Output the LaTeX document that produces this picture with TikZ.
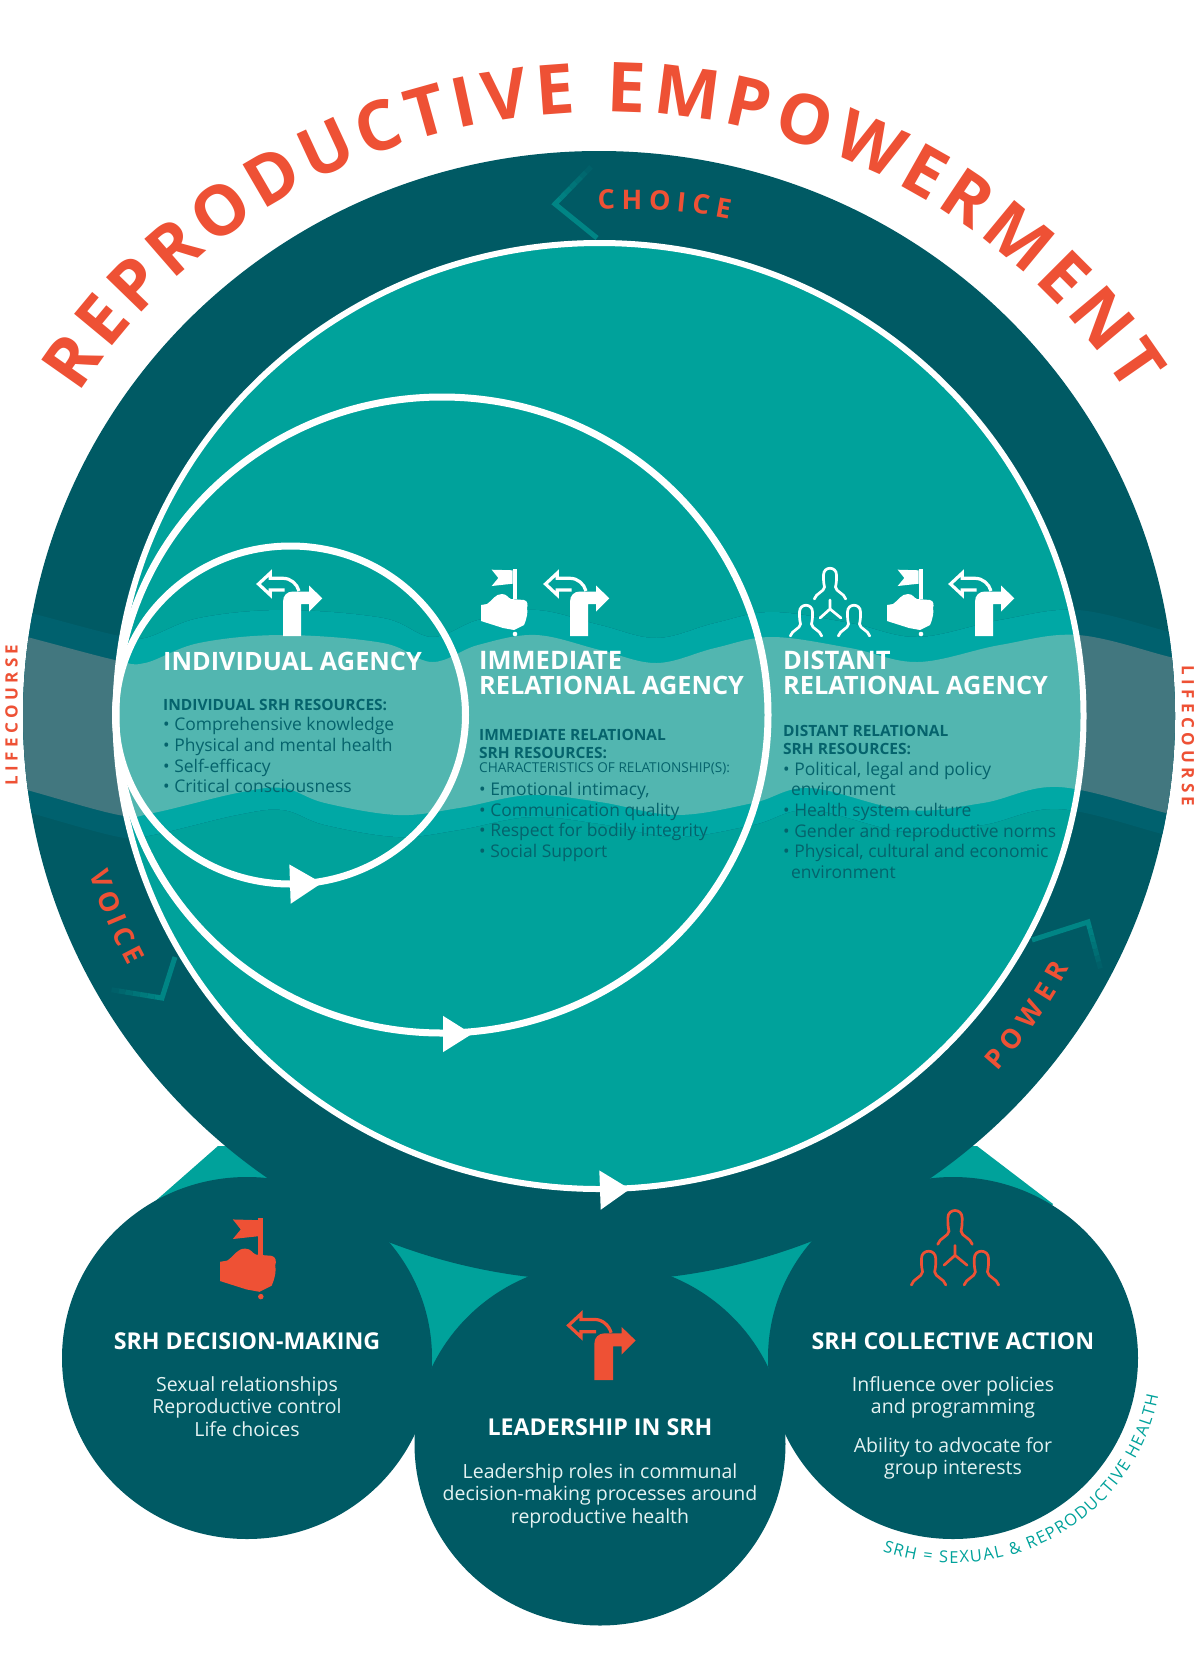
\documentclass[tikz,border=0pt]{standalone}
\usepackage{fontspec}
\setmainfont{Open Sans}
\newfontfamily\widefont{Open Sans}[LetterSpace=26]
\usepackage{xcolor}
\usepackage{tikz}
\usetikzlibrary{arrows.meta,positioning,calc,decorations.text}
\definecolor{cdark}{HTML}{005A64}
\definecolor{cteal}{HTML}{00A29B}
\definecolor{corange}{HTML}{EE5135}
\definecolor{ctext}{HTML}{05636C}
\definecolor{cpale}{HTML}{E4F2F2}
\definecolor{ringback}{HTML}{00616E}
\definecolor{ringband}{HTML}{42777F}
\definecolor{tealback}{HTML}{00A8A5}
\definecolor{tealband}{HTML}{52B6B0}
\newcommand{\sized}[1]{\fontsize{#1}{#1}\selectfont}
% curved text: centre x, centre y, x radius, y radius, from, to, format, text
\newcommand{\arctext}[8]{\path[decorate, decoration={text along path, text align=fit to path,
    text={|#7|#8}}] (#1,#2) ++(#5:#3 and #4) arc[start angle=#5, end angle=#6, x radius=#3, y radius=#4];}
\newcommand{\waveup}[1]{plot[smooth,tension=.6] coordinates {(-5,-630+#1) (27,-637+#1) (115,-660+#1) (145,-663+#1)
    (199,-643+#1) (283,-635+#1) (383,-643+#1) (432,-662+#1) (478,-645+#1) (536,-635+#1) (600,-650+#1)
    (657,-663+#1) (715,-648+#1) (772,-637+#1) (850,-648+#1) (918,-662+#1) (1000,-645+#1) (1078,-635+#1)
    (1170,-657+#1) (1205,-665+#1)}}
\newcommand{\wavelow}[1]{-- plot[smooth,tension=.6] coordinates {(1205,-822+#1) (1166,-813+#1) (1059,-787+#1) (983,-803+#1)
    (906,-810+#1) (810,-788+#1) (753,-803+#1) (676,-815+#1) (600,-802+#1) (530,-795+#1) (459,-808+#1)
    (398,-815+#1) (325,-803+#1) (283,-788+#1) (237,-793+#1) (153,-813+#1) (119,-815+#1) (27,-790+#1) (-5,-782+#1)}}
\tikzset{
  ringline/.style = {draw=white, line width=7pt},
  tipline/.style  = {draw=white, line width=5pt},
  title/.style    = {font=\bfseries\sized{25.3}, text=white, anchor=base west, inner sep=0pt, align=left},
  subhead/.style  = {font=\bfseries\fontsize{15.5}{18}\selectfont, text=ctext, inner sep=0pt, align=left},
  listtxt/.style  = {font=\fontsize{17.45}{20.6}\selectfont, text=ctext, inner sep=0pt, align=left},
  orbhead/.style  = {font=\bfseries\sized{23.2}, text=white, anchor=base, inner sep=0pt},
  orbtxt/.style   = {font=\fontsize{19.5}{22.6}\selectfont, text=cpale, anchor=north, inner sep=0pt, align=center},
  sidetxt/.style  = {font=\widefont\bfseries\sized{17}, text=corange, inner sep=0pt},
  chevron/.style  = {line width=5pt, draw=#1},
  turnsign/.pic = {
    \fill (26,0) -- (26,34.3) .. controls (26,40.5) and (30,44.5) .. (36,44.5) -- (52,44.5) -- (52,50.5)
       -- (65.3,37.7) -- (52,24.3) -- (52,32) -- (44,32) -- (44,0) -- cycle;
    \draw[line width=3.2pt, fill=none] (27.7,46) -- (13.3,46) -- (13.3,41) -- (1.5,52) -- (13.3,63) -- (13.3,57.7) -- (26,57.7)
       .. controls (34,57.7) and (40,52) .. (42,45);
  },
  flagfist/.pic = {
    \fill (0,31) -- (6,32) .. controls (12,36) and (14,42) .. (21,42) .. controls (26,42) and (27,38) .. (30,37) -- (43,36)
       .. controls (47,35) and (47,31) .. (46,28) .. controls (47,24) and (46,18) .. (43,11) -- (33,6) -- (22,8) -- (0,15) -- cycle;
    \fill (10.7,66.3) -- (31.7,65.7) -- (31.7,52.3) -- (10.7,50) -- (17.3,58) -- cycle;
    \fill (31.7,67.3) rectangle (35.7,37);
    \fill (34,2) circle[radius=2.3];
  },
  trio/.pic = {
    \foreach \px/\py in {40/37, 16/0, 64/0}
      \draw[line width=2.7pt, line cap=round, fill=none, shift={(\px,\py)}] (-15.7,0)
         .. controls (-14,6) and (-6,7) .. (-5.5,12) .. controls (-6.5,17) and (-6.5,18) .. (-6.5,24)
         .. controls (-6.5,33) and (6.5,33) .. (6.5,24) .. controls (6.5,18) and (6.5,17) .. (5.5,12)
         .. controls (6,7) and (14,6) .. (15.7,0);
    \draw[line width=2.7pt, line cap=round, fill=none] (40,36) -- (40,27) -- (30,18) (40,27) -- (51,18);
  },
}
\begin{document}
\begin{tikzpicture}[x=1pt,y=1pt]
  \useasboundingbox (0,0) rectangle (1200,-1668);
  \fill[white] (0,0) rectangle (1200,-1668);

  % teal wedges behind the discs
  \fill[cteal] (218,-1146) -- (152,-1204) -- (247,-1358) -- (600,-1444) -- (953,-1358) -- (1053,-1204) -- (977,-1146) -- cycle;
  \fill[cdark] (599,-716) ellipse[x radius=576, y radius=565];
  \fill[cdark] (247,-1358) ellipse[x radius=185, y radius=181];
  \fill[cdark] (600,-1444) ellipse[x radius=185.5, y radius=181.5];
  \fill[cdark] (953,-1358) ellipse[x radius=185, y radius=181];
  \fill[cteal] (599.5,-716) ellipse[x radius=484, y radius=473];

  \begin{scope}
    \clip (599,-716) ellipse[x radius=576, y radius=565];
    \fill[ringback] \waveup{25} \wavelow{-22} -- cycle;
    \fill[ringband] \waveup{0} \wavelow{0} -- cycle;
  \end{scope}
  \begin{scope}
    \clip (599.5,-716) ellipse[x radius=484, y radius=473];
    \fill[tealback] \waveup{25} \wavelow{-22} -- cycle;
    \fill[tealband] \waveup{0} \wavelow{0} -- cycle;
  \end{scope}

  % faded chevrons on the ring
  \coordinate (choicea) at (597,-238); \coordinate (choiceb) at (555,-204); \coordinate (choicec) at (590,-168);
  \coordinate (voicea) at (175,-957); \coordinate (voiceb) at (162,-998); \coordinate (voicec) at (113,-990);
  \coordinate (powera) at (1032,-940); \coordinate (powerb) at (1088,-922); \coordinate (powerc) at (1100,-967);
  \foreach \cha/\chb/\chc in {choicea/choiceb/choicec, voicea/voiceb/voicec, powera/powerb/powerc}{
    \draw[chevron=cteal!60!cdark, line join=miter] (\cha) -- (\chb) -- ($(\chb)!.15!(\chc)$);
    \foreach \st/\op in {15/52, 30/44, 45/36, 60/28, 75/18, 88/9}
      \draw[chevron=cteal!\op!cdark] ($(\chb)!\st/100!(\chc)$) -- ($(\chb)!\st/100+.15!(\chc)$);
  }

  % rings and their arrows
  \draw[ringline, line width=6pt] (599.5,-716) ellipse[x radius=484, y radius=473];
  \draw[ringline] (442,-715) ellipse[x radius=326, y radius=318];
  \draw[ringline] (290.5,-715) ellipse[x radius=175, y radius=169];
  \coordinate (smallbase) at (292,-884);   \coordinate (smalltip) at (322,-883);
  \coordinate (midbase) at (445,-1034);    \coordinate (midtip) at (472,-1034);
  \coordinate (bigbase) at (602,-1190);    \coordinate (bigtip) at (630,-1189);
  \draw[tipline, -{Triangle[length=32pt,width=38pt]}] (smallbase) -- (smalltip);
  \draw[tipline, -{Triangle[length=29pt,width=35pt]}] (midbase) -- (midtip);
  \draw[tipline, -{Triangle[length=30pt,width=38pt]}] (bigbase) -- (bigtip);

  % curved words
  \arctext{603}{-716}{620}{604}{147.7}{32.2}{\color{corange}\bfseries\sized{69}}{REPRODUCTIVE EMPOWERMENT}
  \arctext{630}{-716}{507}{507}{93.6}{78.7}{\color{corange}\bfseries\sized{27}}{CHOICE}
  \arctext{599}{-716}{533}{533}{197.2}{208}{\color{corange}\bfseries\sized{27}}{VOICE}
  \arctext{599}{-716}{534}{534}{318.2}{331.8}{\color{corange}\bfseries\sized{27}}{POWER}
  \arctext{953}{-1358}{209}{205}{250.3}{349.5}{\color{cteal}\sized{16.5}}{SRH = SEXUAL {\&} REPRODUCTIVE HEALTH}
  \node[sidetxt, rotate=90] (lifeleft) at (11.5,-715) {LIFECOURSE};
  \node[sidetxt, rotate=-90] (liferight) at (1188,-736) {LIFECOURSE};

  % icons inside the rings
  \pic[color=white] at (257,-636) {turnsign};
  \pic[color=white] at (481,-636) {flagfist};
  \pic[color=white] at (544,-636) {turnsign};
  \pic[color=white] at (790,-636) {trio};
  \pic[color=white] at (887,-636) {flagfist};
  \pic[color=white] at (949,-636) {turnsign};

  % agency columns
  \node[title] (indiv) at (163,-670) {INDIVIDUAL AGENCY};
  \node[subhead, anchor=base west] (indivres) at (163,-710) {INDIVIDUAL SRH RESOURCES:};
  \node[listtxt, below right=7pt and 0pt of indivres.south west] (indivlist)
     {• Comprehensive knowledge\\• Physical and mental health\\• Self-efficacy\\• Critical consciousness};

  \node[title, anchor=north west] (immed) at (479,-651) {\fontsize{25.5}{26.5}\selectfont IMMEDIATE\\RELATIONAL AGENCY};
  \node[subhead, anchor=north west] (immedres) at (479,-729)
     {IMMEDIATE RELATIONAL\\SRH RESOURCES:};
  \node[listtxt, below right=4pt and 0pt of immedres.south west, font=\sized{13.6}] (immedchar)
     {CHARACTERISTICS OF RELATIONSHIP(S):};
  \node[listtxt, below right=7pt and 0pt of immedchar.south west] (immedlist)
     {• Emotional intimacy,\\• Communication quality\\• Respect for bodily integrity\\• Social Support};

  \node[title, anchor=north west] (dist) at (783,-651) {\fontsize{25.5}{26.5}\selectfont DISTANT\\RELATIONAL AGENCY};
  \node[subhead, anchor=north west] (distres) at (783,-725)
     {DISTANT RELATIONAL\\SRH RESOURCES:};
  \node[listtxt, below right=7pt and 0pt of distres.south west] (distlist)
     {• Political, legal and policy\\\hspace*{8pt}environment\\• Health system culture\\• Gender and reproductive norms\\• Physical, cultural and economic\\\hspace*{8pt}environment};

  % lower discs
  \pic[color=corange, scale=1.2] at (220,-1299) {flagfist};
  \pic[color=corange, scale=1.05] at (567,-1380) {turnsign};
  \pic[color=corange, scale=1.1] at (911,-1285) {trio};

  \node[orbhead] (decide) at (247,-1349) {SRH DECISION-MAKING};
  \node[orbtxt] (decidetxt) at (247,-1376) {Sexual relationships\\Reproductive control\\Life choices};
  \node[orbhead] (lead) at (600,-1435) {LEADERSHIP IN SRH};
  \node[orbtxt] (leadtxt) at (600,-1463) {Leadership roles in communal\\decision-making processes around\\reproductive health};
  \node[orbhead] (collect) at (953,-1349) {SRH COLLECTIVE ACTION};
  \node[orbtxt] (collecttxt) at (953,-1376) {Influence over policies\\and programming};
  \node[orbtxt] (advocate) at (953,-1437) {Ability to advocate for\\group interests};
\end{tikzpicture}
\end{document}
